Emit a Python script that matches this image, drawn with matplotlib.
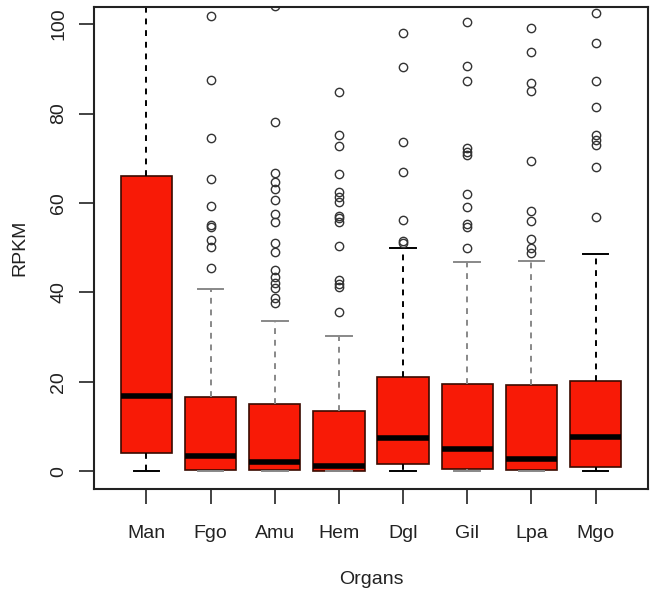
import matplotlib
matplotlib.use("Agg")
import matplotlib.pyplot as plt

organs = ["Man", "Fgo", "Amu", "Hem", "Dgl", "Gil", "Lpa", "Mgo"]
q1 = [4.0, 0.2, 0.3, 0.1, 1.6, 0.4, 0.2, 0.9]
med = [16.8, 3.4, 2.0, 1.1, 7.4, 5.0, 2.7, 7.6]
q3 = [66.0, 16.5, 15.0, 13.4, 21.0, 19.5, 19.2, 20.1]
whis_lo = [0.0, 0.0, 0.0, 0.0, 0.0, 0.0, 0.0, 0.0]
whis_hi = [160.0, 40.7, 33.6, 30.2, 49.9, 46.8, 47.0, 48.5]
outliers = [
    [],
    [101.8, 87.6, 74.5, 65.3, 59.3, 55.0, 54.5, 51.7, 50.2, 45.4],
    [104.0, 78.2, 66.6, 64.7, 63.2, 60.6, 57.6, 55.8, 51.0, 49.0, 45.0, 43.5,
     42.0, 40.9, 38.7, 37.5],
    [84.8, 75.2, 72.7, 66.4, 62.4, 61.3, 60.2, 57.0, 56.6, 55.8, 50.3, 42.7,
     41.8, 41.1, 35.6],
    [98.0, 90.4, 73.6, 67.0, 56.2, 51.5, 51.0],
    [100.5, 90.7, 87.3, 72.2, 71.4, 70.7, 61.9, 59.0, 55.3, 54.5, 49.9],
    [99.1, 93.7, 86.8, 85.1, 69.4, 58.2, 56.0, 51.9, 49.9, 48.8],
    [102.5, 95.8, 87.3, 81.4, 75.2, 74.0, 72.9, 68.0, 56.8],
]
whisker_colors = ["black", "#888888", "#888888", "#888888", "black",
                  "#888888", "#888888", "black"]

plt.rcParams["font.family"] = ["Liberation Sans", "DejaVu Sans"]

stats = []
for i in range(len(organs)):
    stats.append({"label": organs[i], "q1": q1[i], "med": med[i], "q3": q3[i],
                  "whislo": whis_lo[i], "whishi": whis_hi[i],
                  "fliers": outliers[i]})

fig = plt.figure(figsize=(6.56, 5.97), dpi=100)
ax = fig.add_axes([0.143, 0.181, 0.845, 0.807])

bp = ax.bxp(stats, positions=range(1, 9), widths=0.8, patch_artist=True,
            showfliers=True,
            boxprops=dict(facecolor="#F81A06", edgecolor="#3a0a00", linewidth=1.2),
            medianprops=dict(color="black", linewidth=4, solid_capstyle="butt"),
            whiskerprops=dict(linestyle=(0, (3, 3)), linewidth=1.4),
            capprops=dict(linewidth=1.4),
            flierprops=dict(marker="o", markerfacecolor="none",
                            markeredgecolor="#333333", markersize=6,
                            markeredgewidth=1.0, linestyle="none"))
for i, c in enumerate(whisker_colors):
    for w in bp["whiskers"][2 * i:2 * i + 2]:
        w.set_color(c)
    for cap in bp["caps"][2 * i:2 * i + 2]:
        cap.set_color(c)
    cap_w = 0.4
    for cap in bp["caps"][2 * i:2 * i + 2]:
        cap.set_xdata([i + 1 - cap_w / 2, i + 1 + cap_w / 2])

ax.set_xlim(0.18, 8.82)
ax.set_ylim(-4, 103.8)
ax.set_yticks([0, 20, 40, 60, 80, 100])
ax.set_yticklabels(["0", "20", "40", "60", "80", "100"], rotation=90,
                   va="center")
ax.set_xticks(range(1, 9))
ax.set_xticklabels(organs)
ax.tick_params(axis="both", direction="out", length=11, width=1.2,
               labelsize=14, colors="#222222")
ax.tick_params(axis="x", pad=15)
ax.tick_params(axis="y", pad=8)
for s in ax.spines.values():
    s.set_linewidth(1.5)
    s.set_color("#222222")

ax.set_xlabel("Organs", fontsize=14, labelpad=21, color="#222222")
ax.set_ylabel("RPKM", fontsize=14, labelpad=16, color="#222222")

fig.savefig("out.png", dpi=100)
